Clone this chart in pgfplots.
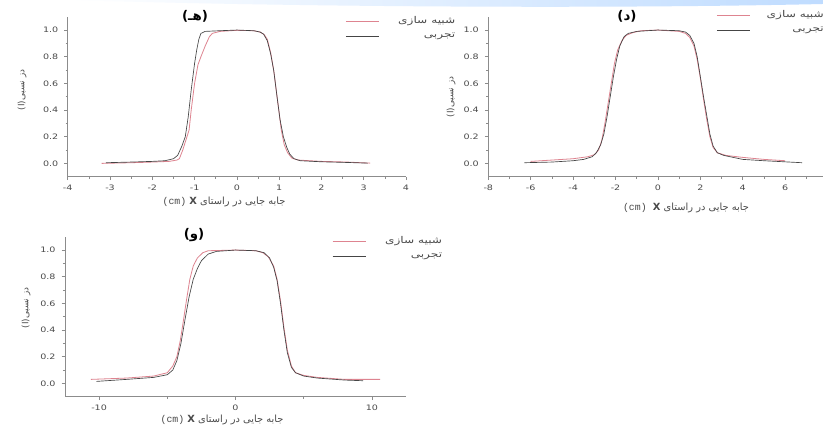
\documentclass[border=0pt]{standalone}
\usepackage{fontspec}
\setmainfont{DejaVu Sans}
\newfontfamily\arabicfont[Script=Arabic]{DejaVu Sans}
\newfontfamily\cmfont{Liberation Mono}
\usepackage{pgfplots}
\pgfplotsset{compat=1.18}
\TeXXeTstate=1

\definecolor{sim}{HTML}{DE8490}
\definecolor{expc}{HTML}{454545}
\definecolor{axgray}{HTML}{8C8C8C}
\definecolor{txtgray}{HTML}{4A4A4A}

% panel 1 (h)
\pgfplotstableread{
x y
-3.10 0.005
-2.50 0.010
-2.00 0.015
-1.70 0.020
-1.50 0.035
-1.40 0.060
-1.30 0.130
-1.22 0.200
-1.15 0.350
-1.08 0.550
-1.00 0.750
-0.95 0.850
-0.90 0.930
-0.85 0.975
-0.75 0.990
-0.40 0.995
0.00 1.000
0.40 0.995
0.55 0.985
0.63 0.970
0.72 0.920
0.80 0.820
0.87 0.700
0.95 0.500
1.02 0.330
1.10 0.200
1.18 0.120
1.25 0.070
1.35 0.035
1.50 0.020
2.00 0.012
2.50 0.008
3.10 0.002
}\expA
\pgfplotstableread{
x y
-3.20 0.000
-2.50 0.005
-2.00 0.010
-1.60 0.015
-1.42 0.025
-1.36 0.035
-1.28 0.100
-1.20 0.180
-1.13 0.250
-1.08 0.400
-1.00 0.600
-0.92 0.740
-0.85 0.800
-0.75 0.880
-0.65 0.950
-0.58 0.975
-0.40 0.990
0.00 0.998
0.40 0.995
0.55 0.985
0.65 0.965
0.72 0.930
0.80 0.830
0.88 0.680
0.95 0.500
1.00 0.380
1.05 0.250
1.12 0.140
1.20 0.080
1.30 0.040
1.45 0.025
2.00 0.015
2.60 0.010
3.15 0.002
}\simA

% panel 2 (d)
\pgfplotstableread{
x y
-6.30 0.005
-5.00 0.010
-4.00 0.020
-3.50 0.030
-3.10 0.050
-2.90 0.080
-2.70 0.140
-2.55 0.220
-2.40 0.350
-2.25 0.500
-2.10 0.650
-1.95 0.780
-1.80 0.880
-1.60 0.950
-1.40 0.975
-1.00 0.990
0.00 1.000
1.00 0.995
1.30 0.985
1.50 0.960
1.70 0.900
1.85 0.800
2.00 0.650
2.15 0.500
2.30 0.360
2.45 0.220
2.60 0.130
2.80 0.080
3.10 0.060
4.00 0.030
5.00 0.020
6.80 0.005
}\expB
\pgfplotstableread{
x y
-6.00 0.015
-5.00 0.025
-4.00 0.035
-3.30 0.050
-3.00 0.065
-2.80 0.100
-2.65 0.170
-2.50 0.300
-2.35 0.450
-2.20 0.600
-2.05 0.750
-1.90 0.850
-1.70 0.920
-1.50 0.960
-1.20 0.980
-0.80 0.995
0.00 1.000
1.00 0.990
1.30 0.975
1.50 0.945
1.70 0.880
1.85 0.780
2.00 0.640
2.15 0.480
2.30 0.330
2.45 0.200
2.60 0.120
2.80 0.080
3.20 0.060
4.00 0.045
5.00 0.030
6.00 0.020
}\simB

% panel 3 (v)
\pgfplotstableread{
x y
-10.20 0.015
-8.00 0.030
-6.00 0.045
-5.00 0.065
-4.60 0.100
-4.30 0.170
-4.00 0.300
-3.70 0.480
-3.40 0.650
-3.10 0.780
-2.80 0.860
-2.50 0.920
-2.00 0.970
-1.40 0.990
0.00 1.000
1.50 0.995
2.10 0.980
2.50 0.940
2.80 0.870
3.05 0.770
3.30 0.600
3.55 0.400
3.80 0.230
4.10 0.120
4.40 0.080
5.00 0.055
6.00 0.040
8.00 0.025
9.35 0.020
}\expC
\pgfplotstableread{
x y
-10.60 0.030
-8.00 0.040
-6.00 0.055
-5.00 0.080
-4.60 0.130
-4.30 0.200
-4.05 0.320
-3.85 0.450
-3.60 0.620
-3.35 0.780
-3.10 0.880
-2.80 0.940
-2.40 0.980
-2.00 0.995
0.00 1.000
1.50 0.995
2.00 0.980
2.40 0.950
2.80 0.880
3.05 0.780
3.30 0.620
3.55 0.420
3.80 0.250
4.10 0.130
4.40 0.080
5.00 0.060
6.00 0.045
8.00 0.030
10.60 0.030
}\simC

\newcommand{\lgd}[1]{\scalebox{1.3}[1]{\beginR #1\endR}}

\pgfplotsset{
  panel/.style={
    scale only axis, width=#1, height=120pt,
    axis lines=left,
    axis line style={axgray, line width=0.5pt, -},
    ymin=-0.1, ymax=1.1,
    ytick={0,0.2,0.4,0.6,0.8,1.0}, minor y tick num=1,
    tick align=outside,
    major tick length=2.6pt, minor tick length=1.6pt,
    tick style={axgray, line width=0.45pt},
    tick label style={font=\fontsize{5.6}{6}\selectfont, text=txtgray, xscale=1.28},
    y tick label style={/pgf/number format/.cd, fixed, fixed zerofill, precision=1, /tikz/.cd},
    /pgf/number format/assume math mode=true,
    clip=false,
    legend cell align=right,
    legend style={draw=none, fill=none, inner sep=0pt,
      font=\arabicfont\fontsize{7}{7}\selectfont, text=txtgray,
      /tikz/row sep=1.5pt,
      /tikz/every odd column/.append style={column sep=12pt}},
    legend image code/.code={\draw[##1] (0pt,0pt) -- (25pt,0pt);},
  },
  simline/.style={sim, line width=0.6pt},
  expline/.style={expc, line width=0.5pt},
}

\begin{document}
\begin{tikzpicture}
\useasboundingbox (0,0) rectangle (617.25pt,320.25pt);
\fill[white] (0,0) rectangle (617.25pt,320.25pt);

% slide decoration at top
\begin{scope}[x=0.75pt, y=-0.75pt, yshift=320.25pt]
  \shade[left color=white, right color=cyan!45!blue!25]
    (70,0) .. controls (300,7) and (600,9) .. (823,4) -- (823,0) -- cycle;
\end{scope}

% panel (h)
\begin{axis}[panel=253.7pt, at={(50.8pt,187.7pt)}, anchor=south west,
  xmin=-4, xmax=4, xtick={-4,-3,...,4}, minor x tick num=1,
  legend style={at={(rel axis cs:0.82,1.02)}, anchor=north west}]
  \addplot[simline] table {\simA};
  \addlegendentry{\lgd{شبیه سازی}}
  \addplot[expline] table {\expA};
  \addlegendentry{\lgd{تجربی}}
\end{axis}

% panel (d)
\begin{axis}[panel=254.5pt, at={(366.2pt,187.7pt)}, anchor=south west,
  xmin=-8, xmax=8, xtick={-8,-6,...,6}, minor xtick={-7,-5,...,7,8},
  legend style={at={(rel axis cs:0.672,1.055)}, anchor=north west,
    /tikz/every odd column/.append style={column sep=10pt}}]
  \addplot[simline] table {\simB};
  \addlegendentry{\lgd{شبیه سازی}}
  \addplot[expline] table {\expB};
  \addlegendentry{\lgd{تجربی}}
\end{axis}

% panel (v)
\begin{axis}[panel=255.75pt, at={(48.75pt,22.7pt)}, anchor=south west,
  xmin=-12.5, xmax=12.5, xtick={-10,0,10}, minor xtick={-5,5},
  legend style={at={(rel axis cs:0.783,1.02)}, anchor=north west}]
  \addplot[simline] table {\simC};
  \addlegendentry{\lgd{شبیه سازی}}
  \addplot[expline] table {\expC};
  \addlegendentry{\lgd{تجربی}}
\end{axis}

% titles and labels (pixel coordinates of the reference)
\begin{scope}[x=0.75pt, y=-0.75pt, yshift=320.25pt]
  \tikzset{ttl/.style={font=\bfseries\fontsize{10}{11}\selectfont, inner sep=0pt},
           xl/.style={font=\fontsize{7.4}{8}\selectfont, text=txtgray, inner sep=0pt},
           yl/.style={font=\fontsize{6.6}{7}\selectfont, text=txtgray, inner sep=0pt, rotate=90}}
  \node[ttl] at (195,16) {(\hbox{\arabicfont\bfseries\beginR هـ\endR})};
  \node[ttl] at (627,16) {(\hbox{\arabicfont\bfseries\beginR د\endR})};
  \node[ttl] at (194,235) {(\hbox{\arabicfont\bfseries\beginR و\endR})};

  \node[xl] at (224,202) {{\cmfont(cm)} {\bfseries X} \hbox{\arabicfont\beginR جابه جایی در راستای\endR}};
  \node[xl] at (686,208) {{\cmfont(cm)}\ \ {\bfseries X} \hbox{\arabicfont\beginR جابه جایی در راستای\endR}};
  \node[xl] at (222,420) {{\cmfont(cm)} {\bfseries X} \hbox{\arabicfont\beginR جابه جایی در راستای\endR}};

  \node[yl] at (22,90) {(I)\hbox{\arabicfont\beginR دز نسبی\endR}};
  \node[yl] at (451,97) {(I)\hbox{\arabicfont\beginR دز نسبی\endR}};
  \node[yl] at (26,308) {(I)\hbox{\arabicfont\beginR دز نسبی\endR}};
\end{scope}
\end{tikzpicture}
\end{document}
